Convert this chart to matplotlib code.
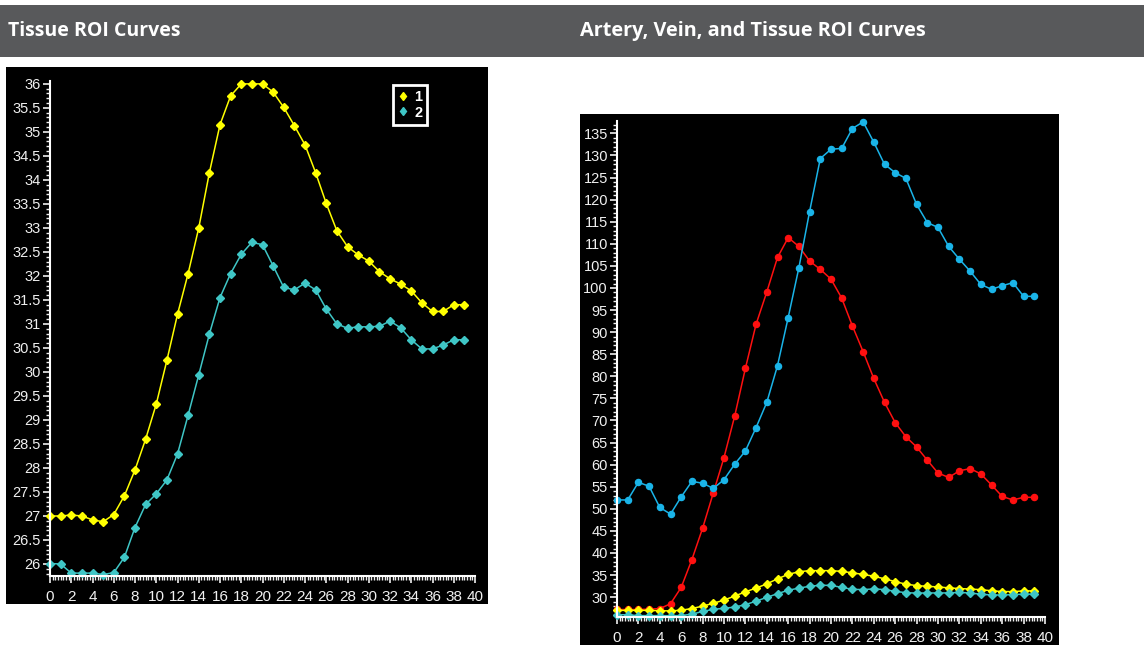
import matplotlib.pyplot as plt
from matplotlib.lines import Line2D
from matplotlib.patches import Rectangle
from matplotlib.ticker import MultipleLocator, FormatStrFormatter
import numpy as np

W, H = 1144, 655

# frame index on the x axis
frames = np.arange(40)

# tissue ROI 1 (yellow) and ROI 2 (teal)
tissue1 = [27.0, 27.0, 27.02, 27.0, 26.92, 26.88, 27.03, 27.42, 27.96, 28.6,
           29.33, 30.24, 31.2, 32.05, 33.0, 34.15, 35.15, 35.75, 36.0, 36.0,
           36.0, 35.83, 35.51, 35.13, 34.73, 34.15, 33.51, 32.94, 32.61, 32.44,
           32.31, 32.09, 31.94, 31.83, 31.69, 31.44, 31.26, 31.26, 31.4, 31.4]
tissue2 = [26.01, 26.0, 25.81, 25.81, 25.81, 25.78, 25.82, 26.14, 26.76, 27.24,
           27.46, 27.75, 28.29, 29.1, 29.94, 30.79, 31.55, 32.05, 32.45, 32.7,
           32.65, 32.21, 31.76, 31.71, 31.85, 31.71, 31.31, 31.0, 30.91, 30.94,
           30.94, 30.95, 31.06, 30.92, 30.67, 30.48, 30.48, 30.56, 30.67, 30.67]

# artery (red) and vein (blue) ROI
artery = [27.2, 27.2, 27.2, 27.3, 27.4, 28.5, 32.2, 38.5, 45.6, 53.6,
          61.6, 71.0, 81.8, 91.8, 99.1, 106.9, 111.4, 109.4, 106.1, 104.2,
          102.0, 97.7, 91.4, 85.6, 79.5, 74.1, 69.5, 66.3, 64.0, 61.0,
          58.1, 57.1, 58.6, 59.1, 57.9, 55.4, 52.8, 52.0, 52.6, 52.6]
vein = [52.0, 52.0, 56.0, 55.1, 50.3, 48.8, 52.7, 56.2, 55.8, 54.6,
        56.6, 60.1, 63.1, 68.4, 74.1, 82.4, 93.3, 104.6, 117.3, 129.3,
        131.4, 131.6, 136.1, 137.6, 133.0, 128.0, 126.1, 124.8, 118.9, 114.8,
        113.7, 109.4, 106.5, 103.8, 100.8, 99.7, 100.5, 101.2, 98.1, 98.1]

YELLOW = '#ffff00'
TEAL = '#3fc6c6'
RED = '#ff1010'
BLUE = '#1ab4e8'

plt.rcParams['font.family'] = ['Liberation Sans', 'DejaVu Sans']

fig = plt.figure(figsize=(W / 100, H / 100), dpi=100)


def box(x0, y0, x1, y1):
    # pixel box with top-left origin -> figure fraction rect
    return [x0 / W, 1 - y1 / H, (x1 - x0) / W, (y1 - y0) / H]


def rect(x0, y0, x1, y1, color):
    l, b, w, h = box(x0, y0, x1, y1)
    fig.patches.append(Rectangle((l, b), w, h, transform=fig.transFigure,
                                 facecolor=color, edgecolor='none', zorder=-5))


# header bar
rect(0, 5, W, 57, '#58595b')
fig.text(8 / W, 1 - 31 / H, 'Tissue ROI Curves', color='white', fontsize=14,
         fontweight='bold', family='Open Sans', va='center', ha='left')
fig.text(580 / W, 1 - 31 / H, 'Artery, Vein, and Tissue ROI Curves', color='white',
         fontsize=14.3, fontweight='bold', family='Open Sans', va='center', ha='left')

# black panels
rect(6, 67, 488, 604, 'black')
rect(580, 114, 1059, 645, 'black')


def style(ax, ymaj, ymin, yfmt):
    ax.set_facecolor('black')
    for s in ['top', 'right']:
        ax.spines[s].set_visible(False)
    for s in ['left', 'bottom']:
        ax.spines[s].set_color('white')
        ax.spines[s].set_linewidth(1.5)
    ax.set_xlim(0, 40)
    ax.xaxis.set_major_locator(MultipleLocator(2))
    ax.xaxis.set_minor_locator(MultipleLocator(0.25))
    ax.yaxis.set_major_locator(MultipleLocator(ymaj))
    ax.yaxis.set_minor_locator(MultipleLocator(ymin))
    ax.yaxis.set_major_formatter(FormatStrFormatter(yfmt))
    ax.tick_params(which='major', colors='#f0f0f0', length=5, width=1.2,
                   labelsize=10.5, direction='out')
    ax.tick_params(which='minor', colors='#f0f0f0', length=3, width=1, direction='out')
    ax.tick_params(axis='x', which='major', pad=5, labelsize=11)
    ax.tick_params(axis='y', which='major', pad=1.5)


# left chart: tissue ROI curves
ax1 = fig.add_axes(box(50, 81, 475, 576))
style(ax1, 0.5, 0.1, '%g')
ax1.set_ylim(25.75, 36.06)
ax1.plot(frames, tissue1, color=YELLOW, marker='D', ms=4.4, lw=1.1, clip_on=False)
ax1.plot(frames, tissue2, color=TEAL, marker='D', ms=4.4, lw=1.1, clip_on=False)
handles = [Line2D([], [], ls='none', marker='d', ms=4.5, color=YELLOW),
           Line2D([], [], ls='none', marker='d', ms=4.5, color=TEAL)]
leg = ax1.legend(handles, ['1', '2'], loc='upper left',
                 bbox_to_anchor=(393 / W, 1 - 85 / H), bbox_transform=fig.transFigure,
                 facecolor='black', edgecolor='white', framealpha=1, fancybox=False,
                 handlelength=0.7, handletextpad=0.4, borderpad=0.35, labelspacing=0.1,
                 borderaxespad=0, prop={'size': 10.5, 'weight': 'bold'})
leg.get_frame().set_linewidth(2)
for t in leg.get_texts():
    t.set_color('white')

# right chart: artery, vein and tissue ROI curves
ax2 = fig.add_axes(box(617, 121, 1045, 617))
style(ax2, 5, 1, '%g')
ax2.set_ylim(25.5, 137.8)
ax2.plot(frames, artery, color=RED, marker='o', ms=4.4, lw=1.1, clip_on=False)
ax2.plot(frames, vein, color=BLUE, marker='o', ms=4.4, lw=1.1, clip_on=False)
ax2.plot(frames, tissue1, color=YELLOW, marker='D', ms=4.4, lw=1.1, clip_on=False)
ax2.plot(frames, tissue2, color=TEAL, marker='D', ms=4.4, lw=1.1, clip_on=False)
ax2.set_yticks(np.arange(30, 136, 5))

fig.savefig('out.png', dpi=100, facecolor='white')
